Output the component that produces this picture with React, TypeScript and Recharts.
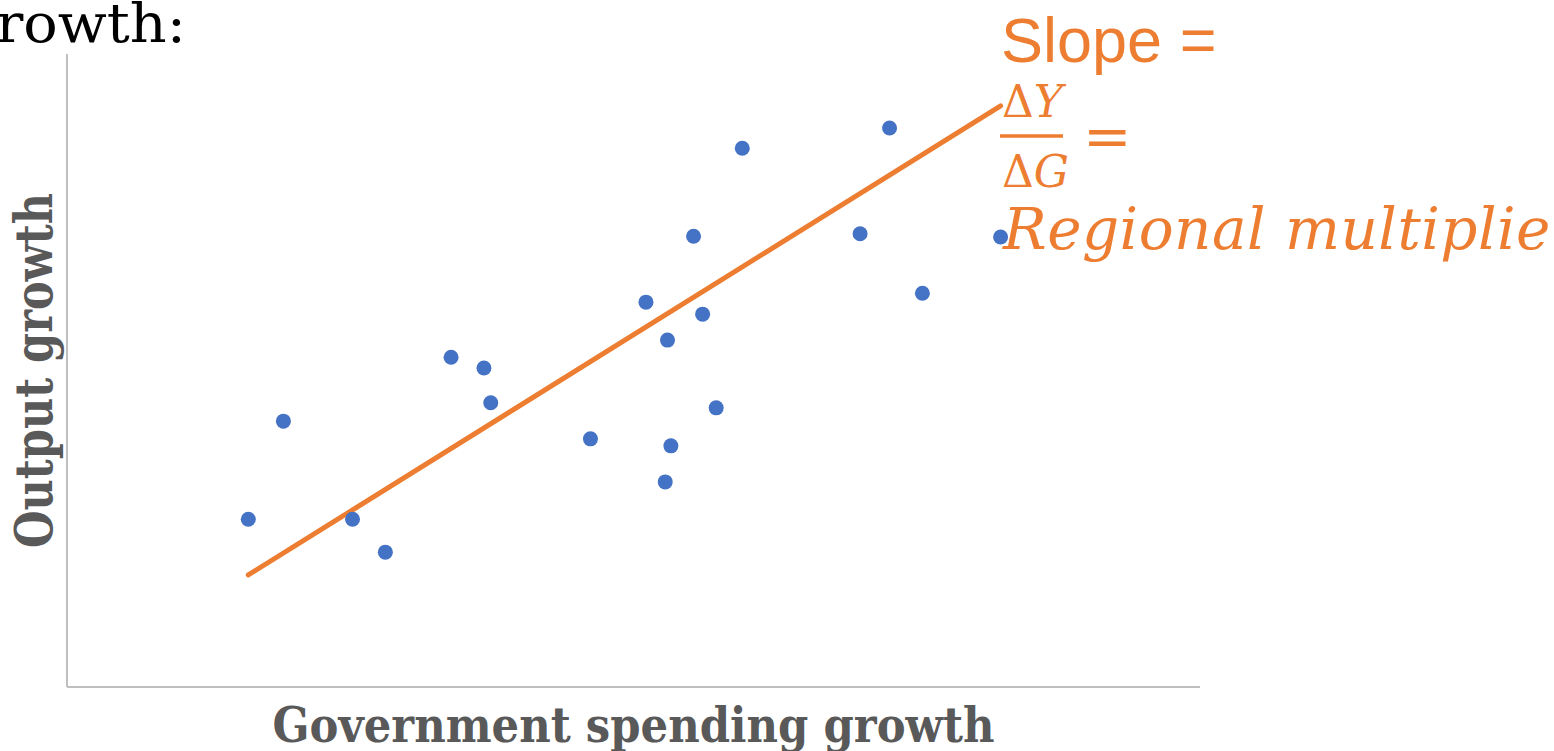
import { ScatterChart, Scatter, XAxis, YAxis, ReferenceLine, Label } from "recharts";

// government spending growth (x) vs output growth (y), arbitrary units 0-100
const spendingGrowth = [16.0, 19.1, 25.2, 28.1, 33.9, 36.8, 37.4, 46.2, 51.1, 52.8, 53.0, 53.3, 55.3, 56.1, 57.3, 59.6, 70.0, 72.6, 75.5, 82.4];
const outputGrowth = [26.5, 42.0, 26.5, 21.3, 52.1, 50.4, 44.9, 39.2, 60.8, 32.4, 54.8, 38.1, 71.2, 58.9, 44.1, 85.1, 71.6, 88.3, 62.2, 71.1];

// fitted line end points
const fitX = [16.0, 82.4];
const fitY = [17.7, 91.8];

const points = spendingGrowth.map((x, i) => ({ x, y: outputGrowth[i] }));

const ORANGE = "#ED7D31";
const BLUE = "#4472C4";
const AXIS_GREY = "#bfbfbf";
const LABEL_GREY = "#595959";

const Dot = (props: any) => <circle cx={props.cx} cy={props.cy} r={7.5} fill={BLUE} />;

const XTitle = (props: any) => {
  const vb = props.viewBox;
  return (
    <text
      x={vb.x + vb.width / 2}
      y={vb.y + 55}
      textAnchor="middle"
      fontFamily="DejaVu Serif"
      fontWeight="bold"
      fontSize={48}
      fill={LABEL_GREY}
      textLength={722}
      lengthAdjust="spacingAndGlyphs"
    >
      Government spending growth
    </text>
  );
};

const YTitle = (props: any) => {
  const vb = props.viewBox;
  const cx = 52;
  const cy = vb.y + vb.height / 2;
  return (
    <text
      x={cx}
      y={cy}
      transform={`rotate(-90 ${cx} ${cy})`}
      textAnchor="middle"
      fontFamily="DejaVu Serif"
      fontWeight="bold"
      fontSize={52}
      fill={LABEL_GREY}
      textLength={355}
      lengthAdjust="spacingAndGlyphs"
    >
      Output growth
    </text>
  );
};

export default function App() {
  return (
    <div style={{ position: "absolute", left: 0, top: 0, width: 1554, height: 751, overflow: "hidden", background: "#fff" }}>
      <ScatterChart width={1554} height={751} margin={{ top: 54, right: 354, bottom: 0, left: 0 }}>
        <XAxis
          type="number"
          dataKey="x"
          domain={[0, 100]}
          tick={false}
          tickLine={false}
          height={64}
          axisLine={{ stroke: AXIS_GREY, strokeWidth: 2 }}
        >
          <Label content={<XTitle />} />
        </XAxis>
        <YAxis
          type="number"
          dataKey="y"
          domain={[0, 100]}
          tick={false}
          tickLine={false}
          width={67}
          axisLine={{ stroke: AXIS_GREY, strokeWidth: 2 }}
        >
          <Label content={<YTitle />} />
        </YAxis>
        <Scatter data={points} shape={<Dot />} isAnimationActive={false} />
        <ReferenceLine
          segment={[
            { x: fitX[0], y: fitY[0] },
            { x: fitX[1], y: fitY[1] },
          ]}
          stroke={ORANGE}
          strokeWidth={5}
          strokeLinecap="round"
        />
      </ScatterChart>
      <svg width={1554} height={751} style={{ position: "absolute", left: 0, top: 0, pointerEvents: "none" }}>
        <text x={-4} y={42} fontFamily="DejaVu Serif" fontSize={54} fill="#000" textLength={190} lengthAdjust="spacingAndGlyphs">
          rowth:
        </text>
        <text x={1001} y={62} fontFamily="Liberation Sans" fontSize={63} fill={ORANGE}>
          Slope =
        </text>
        <text x={1002} y={117} fontFamily="DejaVu Serif" fontSize={44} fill={ORANGE}>
          Δ<tspan fontStyle="italic">Y</tspan>
        </text>
        <line x1={1000} y1={136} x2={1063} y2={136} stroke={ORANGE} strokeWidth={3.5} />
        <text x={1002} y={187} fontFamily="DejaVu Serif" fontSize={44} fill={ORANGE}>
          Δ<tspan fontStyle="italic">G</tspan>
        </text>
        <text x={1083} y={156} fontFamily="DejaVu Serif" fontSize={58} fill={ORANGE}>
          =
        </text>
        <text x={1003} y={249} fontFamily="DejaVu Serif" fontStyle="italic" fontSize={58} letterSpacing={0.5} fill={ORANGE}>
          Regional multiplier
        </text>
      </svg>
    </div>
  );
}
